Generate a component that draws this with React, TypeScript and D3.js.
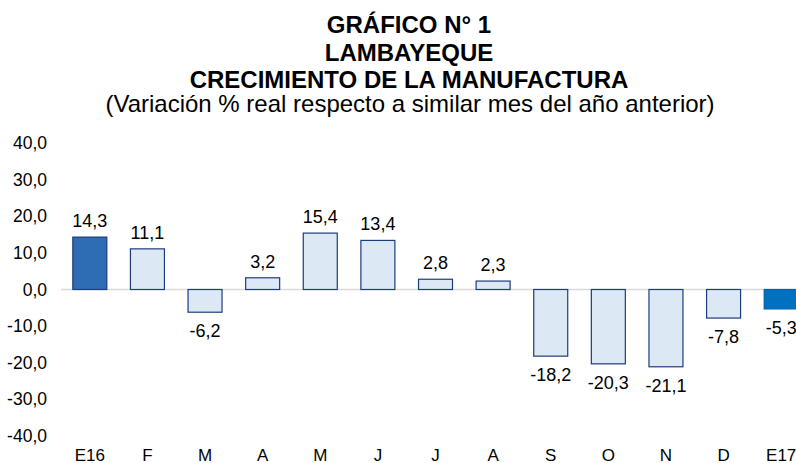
import React, { useRef, useEffect } from 'react';
import * as d3 from 'd3';

const categories = ['E16', 'F', 'M', 'A', 'M', 'J', 'J', 'A', 'S', 'O', 'N', 'D', 'E17'];
const values = [14.3, 11.1, -6.2, 3.2, 15.4, 13.4, 2.8, 2.3, -18.2, -20.3, -21.1, -7.8, -5.3];
const yTicks = [40, 30, 20, 10, 0, -10, -20, -30, -40];
const titleLines = ['GRÁFICO N° 1', 'LAMBAYEQUE', 'CRECIMIENTO DE LA MANUFACTURA'];
const subtitle = '(Variación % real respecto a similar mes del año anterior)';

const fmt = (v: number) => v.toFixed(1).replace('.', ',');

export default function App() {
  const svgRef = useRef<SVGSVGElement | null>(null);

  useEffect(() => {
    if (!svgRef.current) return;
    const width = 796;
    const height = 463;
    const svg = d3.select(svgRef.current);
    svg.selectAll('*').remove();

    const font = 'Liberation Sans, Arial, sans-serif';

    const x = d3.scaleBand<number>()
      .domain(d3.range(categories.length))
      .range([61, 810])
      .paddingInner(0.41)
      .paddingOuter(0.205);
    const y = d3.scaleLinear().domain([-40, 40]).range([436, 143]);

    // Titles
    const baselines = [33, 61, 88];
    titleLines.forEach((t, i) => {
      svg.append('text')
        .attr('x', 409).attr('y', baselines[i])
        .attr('text-anchor', 'middle')
        .attr('font-family', font).attr('font-weight', 'bold').attr('font-size', '24px')
        .attr('fill', '#000')
        .text(t);
    });
    svg.append('text')
      .attr('x', 410).attr('y', 112)
      .attr('text-anchor', 'middle')
      .attr('font-family', font).attr('font-size', '24px')
      .attr('fill', '#000')
      .text(subtitle);

    // Y tick labels
    yTicks.forEach((t) => {
      svg.append('text')
        .attr('x', 47).attr('y', y(t) + 6)
        .attr('text-anchor', 'end')
        .attr('font-family', font).attr('font-size', '17.5px')
        .attr('fill', '#000')
        .text(fmt(t));
    });

    // Zero line
    svg.append('line')
      .attr('x1', 61).attr('x2', width)
      .attr('y1', y(0)).attr('y2', y(0))
      .attr('stroke', '#D9D9D9').attr('stroke-width', 1.5);

    // Bars
    values.forEach((v, i) => {
      const first = i === 0;
      const last = i === values.length - 1;
      const fill = first ? '#2E6DB4' : last ? '#0070C0' : '#DDE8F5';
      const stroke = last ? '#0062A8' : '#1F3C7A';
      svg.append('rect')
        .attr('x', x(i)!)
        .attr('y', Math.min(y(v), y(0)))
        .attr('width', x.bandwidth())
        .attr('height', Math.abs(y(v) - y(0)))
        .attr('fill', fill)
        .attr('stroke', stroke)
        .attr('stroke-width', 1.2);

      svg.append('text')
        .attr('x', x(i)! + x.bandwidth() / 2)
        .attr('y', v >= 0 ? y(v) - 10 : y(v) + 25)
        .attr('text-anchor', 'middle')
        .attr('font-family', font).attr('font-size', '18px')
        .attr('fill', '#000')
        .text(fmt(v));
    });

    // X labels
    categories.forEach((c, i) => {
      svg.append('text')
        .attr('x', x(i)! + x.bandwidth() / 2)
        .attr('y', 461)
        .attr('text-anchor', 'middle')
        .attr('font-family', font).attr('font-size', '17px')
        .attr('fill', '#000')
        .text(c);
    });
  }, []);

  return (
    <div style={{ position: 'absolute', left: 0, top: 0 }}>
      <svg ref={svgRef} width={796} height={463} style={{ display: 'block', background: '#fff' }} />
    </div>
  );
}
